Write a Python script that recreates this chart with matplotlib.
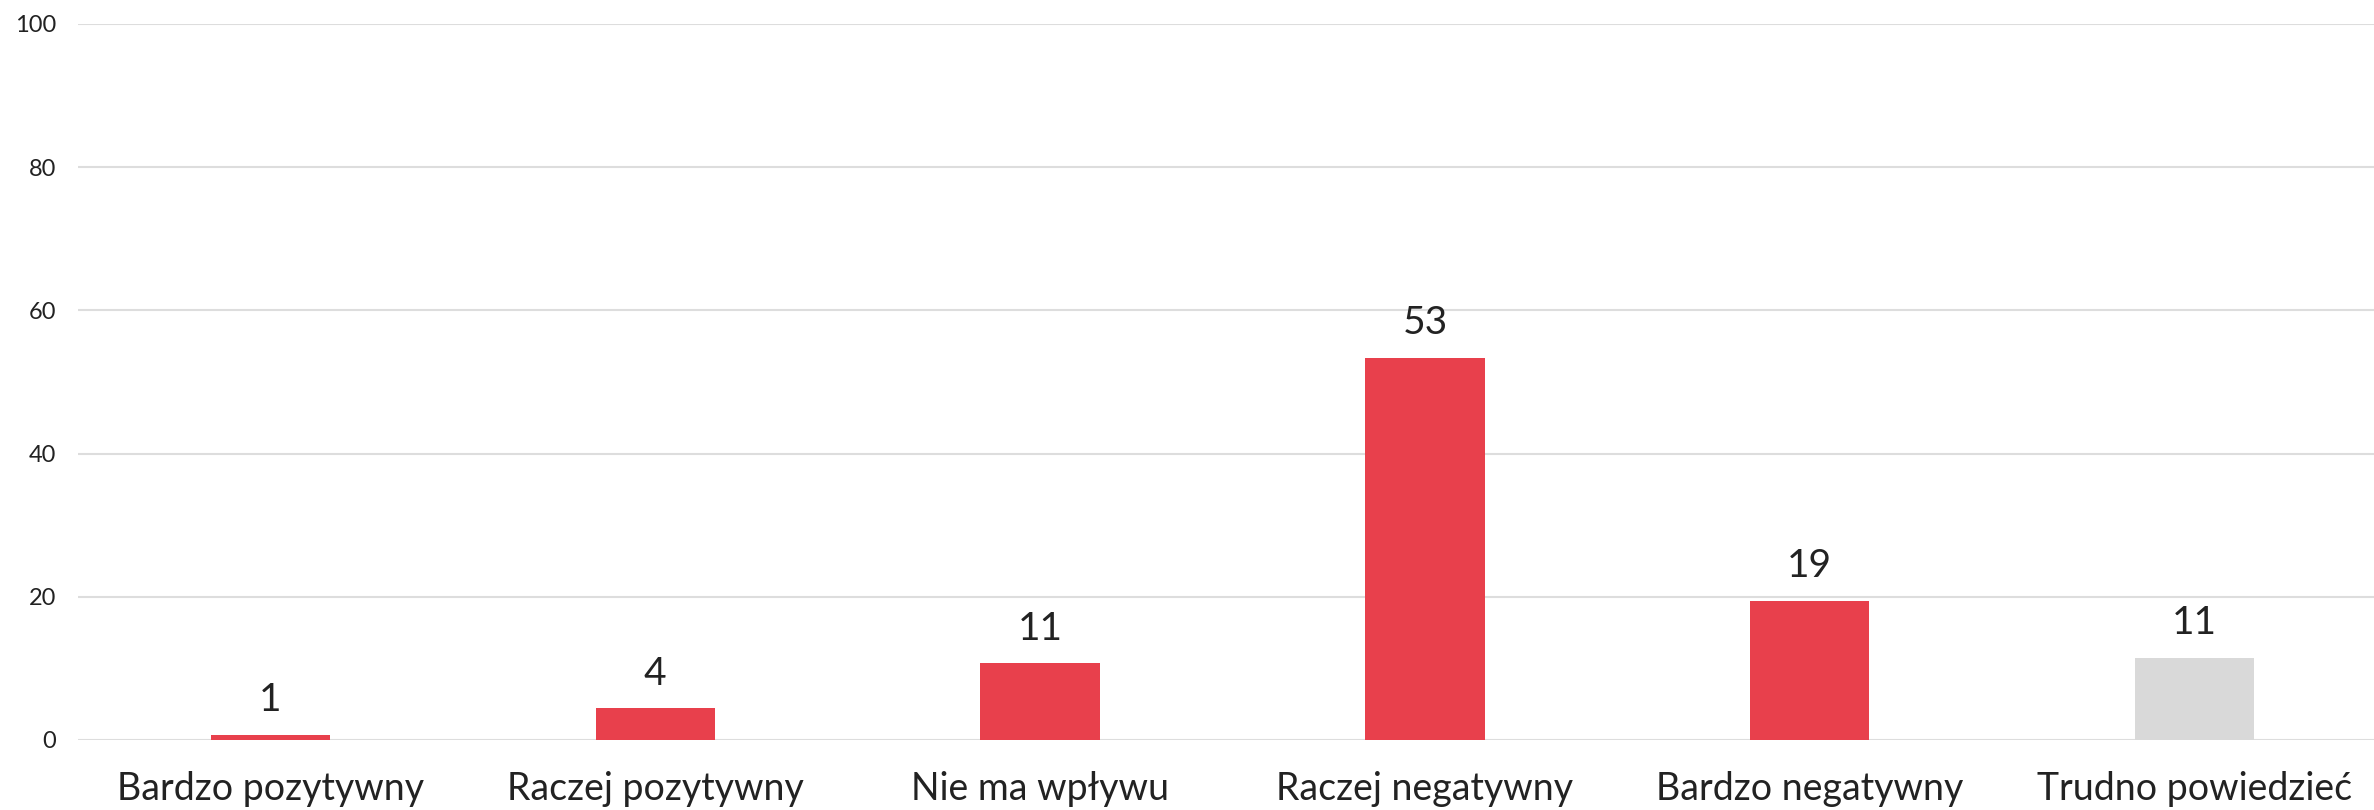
import matplotlib
matplotlib.use("Agg")
import matplotlib.pyplot as plt

plt.rcParams['font.family'] = ['Lato', 'DejaVu Sans']

categories = ["Bardzo pozytywny", "Raczej pozytywny", "Nie ma wpływu",
              "Raczej negatywny", "Bardzo negatywny", "Trudno powiedzieć"]
values = [0.7, 4.4, 10.7, 53.4, 19.4, 11.5]
value_labels = ["1", "4", "11", "53", "19", "11"]
colors = ["#E8404C", "#E8404C", "#E8404C", "#E8404C", "#E8404C", "#D9D9D9"]
y_ticks = [0, 20, 40, 60, 80, 100]

fig = plt.figure(figsize=(23.74, 8.10), dpi=100)
ax = fig.add_axes([78 / 2374, 70 / 810, 2309 / 2374, 716 / 810])

x = range(len(categories))
bars = ax.bar(x, values, width=0.31, color=colors, zorder=3)

for b, lab in zip(bars, value_labels):
    ax.annotate(lab, (b.get_x() + b.get_width() / 2, b.get_height()),
                xytext=(0, 12), textcoords="offset points",
                ha="center", va="bottom", fontsize=28, color="#222222")

ax.set_xlim(-0.5, len(categories) - 0.5)
ax.set_ylim(0, 100)
ax.set_yticks(y_ticks)
ax.set_xticks(list(x))
ax.set_xticklabels(categories, fontsize=27, color="#222222")
ax.tick_params(axis="y", labelsize=17, labelcolor="#222222", length=0, pad=16)
ax.tick_params(axis="x", length=0, pad=22)
ax.grid(axis="y", color="#DDDDDD", linewidth=1.5, zorder=0)
for s in ax.spines.values():
    s.set_visible(False)

fig.savefig("out.png", dpi=100)
